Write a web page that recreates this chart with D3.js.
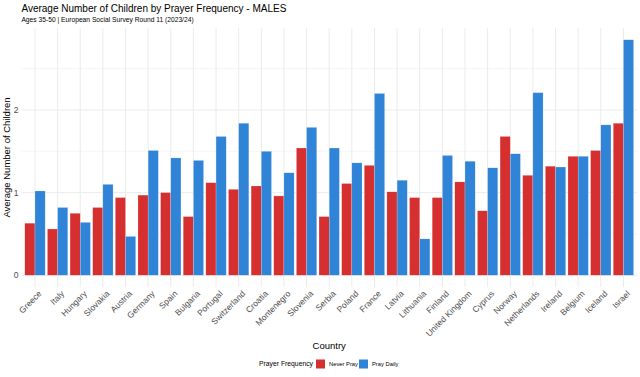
<!DOCTYPE html>
<html>
<head>
<meta charset="utf-8">
<script src="https://cdn.jsdelivr.net/npm/d3@7"></script>
<style>
  body { margin: 0; background: #fff; }
  svg { font-family: "Liberation Sans", Arial, sans-serif; }
</style>
</head>
<body>
<div id="chart"></div>
<script>
// data
const countries = ["Greece", "Italy", "Hungary", "Slovakia", "Austria", "Germany", "Spain", "Bulgaria",
  "Portugal", "Switzerland", "Croatia", "Montenegro", "Slovenia", "Serbia", "Poland", "France", "Latvia",
  "Lithuania", "Finland", "United Kingdom", "Cyprus", "Norway", "Netherlands", "Ireland", "Belgium",
  "Iceland", "Israel"]
const neverPray = [0.63, 0.56, 0.75, 0.82, 0.94, 0.97, 1.00, 0.71, 1.12, 1.04, 1.08, 0.96, 1.54, 0.71,
  1.11, 1.33, 1.01, 0.94, 0.94, 1.13, 0.78, 1.68, 1.21, 1.32, 1.44, 1.51, 1.84]
const prayDaily = [1.02, 0.82, 0.64, 1.10, 0.47, 1.51, 1.42, 1.39, 1.68, 1.84, 1.50, 1.24, 1.79, 1.54,
  1.36, 2.20, 1.15, 0.44, 1.45, 1.38, 1.30, 1.47, 2.21, 1.31, 1.44, 1.82, 2.85]
const groups = ["Never Pray", "Pray Daily"]
const colors = ["#d62f2f", "#2f84d8"]
const yTicks = [0, 1, 2]

const width = 640, height = 377
const margin = {top: 28, right: 3, bottom: 90, left: 21.4}

const svg = d3.select("#chart").append("svg")
    .attr("width", width)
    .attr("height", height)

const rows = countries.map((c, i) => ({country: c, values: [neverPray[i], prayDaily[i]]}))

const ymax = d3.max(prayDaily.concat(neverPray))
const pad = ymax * 0.05
const panelBottom = height - margin.bottom
const y = d3.scaleLinear()
    .domain([-pad, ymax + pad])
    .range([panelBottom, margin.top])

const x = d3.scaleBand()
    .domain(countries)
    .range([margin.left, width - margin.right])
    .paddingOuter(0.1)
    .paddingInner(0)

// inner scale for dodge, bars take 90% of the band
const xInner = d3.scaleBand()
    .domain(groups)
    .range([x.bandwidth() * 0.05, x.bandwidth() * 0.95])

// gridlines
const grid = svg.append("g").attr("stroke", "#ebebeb")
grid.selectAll(".minor")
  .data([0.5, 1.5, 2.5])
  .join("line")
    .attr("x1", margin.left).attr("x2", width - margin.right)
    .attr("y1", d => y(d)).attr("y2", d => y(d))
    .attr("stroke-width", 0.5)
grid.selectAll(".major")
  .data(yTicks)
  .join("line")
    .attr("x1", margin.left).attr("x2", width - margin.right)
    .attr("y1", d => y(d)).attr("y2", d => y(d))
    .attr("stroke-width", 1)
grid.selectAll(".vx")
  .data(countries)
  .join("line")
    .attr("x1", d => x(d) + x.bandwidth() / 2).attr("x2", d => x(d) + x.bandwidth() / 2)
    .attr("y1", margin.top).attr("y2", panelBottom)
    .attr("stroke-width", 1)

// bars
svg.append("g")
  .selectAll("g")
  .data(rows)
  .join("g")
    .attr("transform", d => `translate(${x(d.country)},0)`)
  .selectAll("rect")
  .data(d => d.values.map((v, j) => ({key: groups[j], value: v, j: j})))
  .join("rect")
    .attr("x", d => xInner(d.key))
    .attr("width", xInner.bandwidth())
    .attr("y", d => y(d.value))
    .attr("height", d => y(0) - y(d.value))
    .attr("fill", d => colors[d.j])
    .attr("stroke", "#ffffff")
    .attr("stroke-opacity", 0.5)
    .attr("stroke-width", 0.4)

// y axis labels
svg.append("g")
  .selectAll("text")
  .data(yTicks)
  .join("text")
    .attr("x", margin.left - 3)
    .attr("y", d => y(d))
    .attr("dy", "0.35em")
    .attr("text-anchor", "end")
    .attr("font-size", 8.5)
    .attr("fill", "#4d4d4d")
    .text(d => d)

// x axis labels
svg.append("g")
  .selectAll("text")
  .data(countries)
  .join("text")
    .attr("transform", d => `translate(${x(d) + x.bandwidth() / 2 + 3},${panelBottom + 3}) rotate(-45)`)
    .attr("dy", "0.7em")
    .attr("text-anchor", "end")
    .attr("font-size", 8.5)
    .attr("fill", "#4d4d4d")
    .text(d => d)

// titles
svg.append("text")
    .attr("x", margin.left)
    .attr("y", 12)
    .attr("font-size", 10)
    .attr("fill", "#000")
    .text("Average Number of Children by Prayer Frequency - MALES")
svg.append("text")
    .attr("x", margin.left)
    .attr("y", 21.5)
    .attr("font-size", 6.7)
    .attr("fill", "#000")
    .text("Ages 35-50 | European Social Survey Round 11 (2023/24)")

const cx = (margin.left + width - margin.right) / 2
svg.append("text")
    .attr("x", cx)
    .attr("y", 349)
    .attr("text-anchor", "middle")
    .attr("font-size", 9.5)
    .attr("fill", "#000")
    .text("Country")

svg.append("text")
    .attr("transform", `translate(10,${(margin.top + panelBottom) / 2}) rotate(-90)`)
    .attr("text-anchor", "middle")
    .attr("font-size", 9.5)
    .attr("fill", "#000")
    .text("Average Number of Children")

// legend
const legend = svg.append("g").attr("transform", "translate(260,364)")
legend.append("text")
    .attr("x", 53).attr("y", 0).attr("dy", "0.35em")
    .attr("text-anchor", "end")
    .attr("font-size", 6.8)
    .text("Prayer Frequency")
const lx = [56, 99]
groups.forEach((g, j) => {
  legend.append("rect")
      .attr("x", lx[j]).attr("y", -4.5)
      .attr("width", 9).attr("height", 9)
      .attr("fill", colors[j])
  legend.append("text")
      .attr("x", lx[j] + 13).attr("y", 0).attr("dy", "0.35em")
      .attr("font-size", 5.8)
      .text(g)
})
</script>
</body>
</html>
